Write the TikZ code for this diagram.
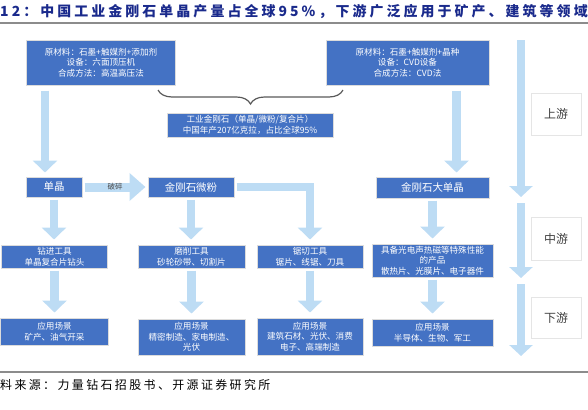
\documentclass[tikz,border=0pt]{standalone}
\usepackage{fontspec}
\setmainfont{Noto Sans CJK SC}
\newfontfamily\titlefont{Noto Sans CJK SC}[LetterSpace=22]
\newfontfamily\notefont{Noto Sans CJK SC}[LetterSpace=20]
\usepackage{xcolor}
\usepackage{tikz}
\usetikzlibrary{
    arrows.meta,
    positioning,
    calc,
    decorations.pathreplacing
}

\begin{document}
\begin{tikzpicture}[x=1bp,y=-1bp,
    box/.style={fill=boxblue,draw=boxedge,line width=1bp,text=white,align=center,
        inner sep=1bp,font=\fontsize{8.6}{10.6}\selectfont},
    bigbox/.style={box,font=\fontsize{10.5}{12}\selectfont},
    stagebox/.style={fill=white,draw=gray!20,line width=0.8bp,text=black!75,
        font=\fontsize{12}{14}\selectfont,minimum width=50bp},
    flow/.style={draw=arrowblue,line width=8.5bp,-{Triangle[length=12bp,width=24bp]}},
    stageflow/.style={draw=arrowblue,line width=7.5bp,-{Triangle[length=11bp,width=23bp]}},
    crush/.style={draw=arrowblue,line width=9bp,-{Triangle[length=16bp,width=27bp]}}
  ]
            \definecolor{boxblue}{HTML}{4472C4}
            \definecolor{boxedge}{HTML}{DCDCDC}
            \definecolor{arrowblue}{HTML}{BDDCF4}
            \definecolor{titleblue}{HTML}{1A2A8C}
            \definecolor{rulegray}{HTML}{8C8C8C}
            \useasboundingbox (0,0) rectangle (588,409);

            % title and source
            \node[anchor=west,inner sep=0,text=titleblue,font=\titlefont\bfseries\fontsize{14}{16}\selectfont] (title) at (0,12)
                {12：中国工业金刚石单晶产量占全球95\%，下游广泛应用于矿产、建筑等领域};
            \draw[rulegray,line width=1.5bp] (0,23) -- (588,23);
            \draw[rulegray,line width=1.5bp] (0,372) -- (588,372);
            \node[anchor=west,inner sep=0,font=\notefont\fontsize{12}{14}\selectfont] (source) at (0,385)
                {料来源：力量钻石招股书、开源证券研究所};

            % upstream
            \node[box,minimum width=148bp,minimum height=45bp] (hpht) at (101,62.5)
                {原材料：石墨+触媒剂+添加剂\\设备：六面顶压机\\合成方法：高温高压法};
            \node[box,minimum width=163bp,minimum height=45bp] (cvd) at (407.5,62.5)
                {原材料：石墨+触媒剂+晶种\\设备：CVD设备\\合成方法：CVD法};
            \coordinate (bracel) at (158,90);
            \coordinate (bracer) at (343,90);
            \draw[decorate,decoration={brace,amplitude=14bp,mirror},draw=black!65,line width=1.2bp] (bracel) -- (bracer);
            \node[box,minimum width=166bp,minimum height=24bp] (total) at (250,125)
                {工业金刚石（单晶/微粉/复合片）\\中国年产207亿克拉，占比全球95\%};

            % products
            \node[bigbox,minimum width=56bp,minimum height=20bp] (single) at (54,187) {单晶};
            \node[bigbox,minimum width=86bp,minimum height=20bp] (powder) at (191,187) {金刚石微粉};
            \node[bigbox,minimum width=113bp,minimum height=21bp] (large) at (432.5,187.5) {金刚石大单晶};

            % tools
            \node[box,minimum width=105bp,minimum height=23bp] (drill) at (54.5,256.5) {钻进工具\\单晶复合片钻头};
            \node[box,minimum width=107bp,minimum height=23bp] (grind) at (191.5,256.5) {磨削工具\\砂轮砂带、切割片};
            \node[box,minimum width=106bp,minimum height=23bp] (saw) at (310,256.5) {锯切工具\\锯片、线锯、刀具};
            \node[box,minimum width=121bp,minimum height=33bp] (func) at (432.5,260.5)
                {具备光电声热磁等特殊性能\\的产品\\散热片、光膜片、电子器件};

            % applications
            \node[box,minimum width=107bp,minimum height=27bp] (mining) at (54.5,331.5) {应用场景\\矿产、油气开采};
            \node[box,minimum width=107bp,minimum height=36bp] (precise) at (191.5,337) {应用场景\\精密制造、家电制造、\\光伏};
            \node[box,minimum width=106bp,minimum height=37bp] (building) at (310,336.5) {应用场景\\建筑石材、光伏、消费\\电子、高端制造};
            \node[box,minimum width=121bp,minimum height=27bp] (semi) at (432.5,332.5) {应用场景\\半导体、生物、军工};

            % flow arrows
            \draw[flow,shorten <=5bp,shorten >=4bp] ($(single.north |- hpht.south)+(-9,0)$) -- ($(single.north)+(-9,0)$);
            \draw[flow,shorten <=5bp,shorten >=4bp] ($(large.north |- cvd.south)+(24,0)$) -- ($(large.north)+(24,0)$);
            \draw[crush,shorten <=2bp,shorten >=2bp] (single.east) -- (powder.west)
                node[midway,text=black!70,font=\fontsize{7.5}{9}\selectfont] (crushlbl) {破碎};
            \draw[flow,shorten <=2bp,shorten >=5bp] (powder.east) -| (saw.north);
            \foreach \from/\to in {single/drill,powder/grind,large/func,drill/mining,grind/precise,saw/building,func/semi}
                \draw[flow,shorten <=2bp,shorten >=5bp] (\from.south) -- (\from.south |- \to.north);

            % stages
            \coordinate (st0) at (521,40);
            \coordinate (st1) at (521,197);
            \coordinate (st2) at (521,203);
            \coordinate (st3) at (521,278);
            \coordinate (st4) at (521,284);
            \coordinate (st5) at (521,356);
            \draw[stageflow] (st0) -- (st1);
            \draw[stageflow] (st2) -- (st3);
            \draw[stageflow] (st4) -- (st5);
            \node[stagebox,minimum height=42bp] (up) at (556,114) {上游};
            \node[stagebox,minimum height=43bp] (mid) at (556,238.5) {中游};
            \node[stagebox,minimum height=41bp] (down) at (556,318) {下游};
        \end{tikzpicture}
\end{document}
